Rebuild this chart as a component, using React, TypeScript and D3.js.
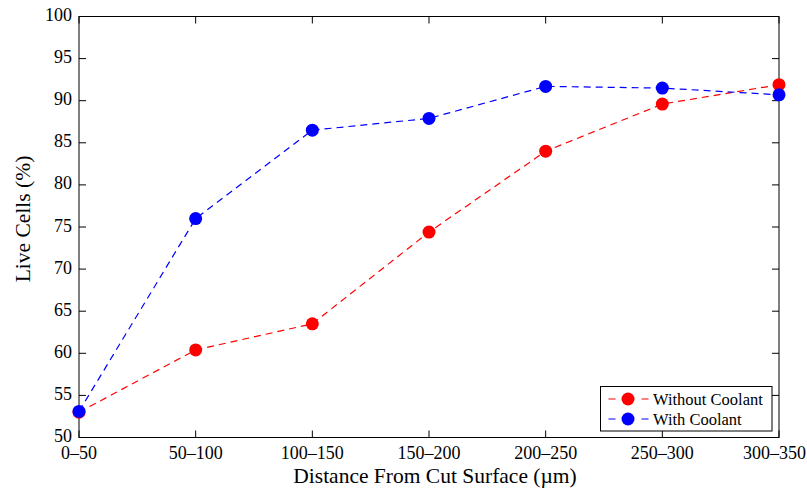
import { useRef, useEffect } from "react";
import * as d3 from "d3";

const categories = ["0–50", "50–100", "100–150", "150–200", "200–250", "250–300", "300–350"];
const withoutCoolant = [53.0, 60.4, 63.5, 74.4, 84.0, 89.6, 91.9];
const withCoolant = [53.1, 76.0, 86.5, 87.9, 91.7, 91.5, 90.7];
const yTicks = [50, 55, 60, 65, 70, 75, 80, 85, 90, 95, 100];

const App = () => {
  const svgRef = useRef<SVGSVGElement>(null);

  useEffect(() => {
    const svg = d3.select(svgRef.current);
    svg.selectAll("*").remove();

    const width = 807;
    const height = 494;
    const margin = { top: 16.5, right: 28, bottom: 56.5, left: 79 };
    const innerWidth = width - margin.left - margin.right;
    const innerHeight = height - margin.top - margin.bottom;
    const font = "'Liberation Serif', 'Times New Roman', serif";

    const chart = svg
      .append("g")
      .attr("transform", `translate(${margin.left}, ${margin.top})`);

    const xScale = d3.scalePoint<string>().domain(categories).range([0, innerWidth]);
    const yScale = d3.scaleLinear().domain([50, 100]).range([innerHeight, 0]);

    // frame
    chart
      .append("rect")
      .attr("width", innerWidth)
      .attr("height", innerHeight)
      .attr("fill", "none")
      .attr("stroke", "#000")
      .attr("stroke-width", 1);

    // ticks (inward on all four sides)
    const tk = 7;
    categories.forEach((c, i) => {
      const x = xScale(c)!;
      chart.append("line").attr("x1", x).attr("x2", x).attr("y1", innerHeight).attr("y2", innerHeight - tk).attr("stroke", "#000");
      chart.append("line").attr("x1", x).attr("x2", x).attr("y1", 0).attr("y2", tk).attr("stroke", "#000");
      const last = i === categories.length - 1;
      chart
        .append("text")
        .attr("x", last ? width - 1 - margin.left : x)
        .attr("y", innerHeight + 21)
        .attr("text-anchor", last ? "end" : "middle")
        .attr("font-family", font)
        .attr("font-size", 18)
        .text(c);
    });
    yTicks.forEach((v) => {
      const y = yScale(v);
      chart.append("line").attr("x1", 0).attr("x2", tk).attr("y1", y).attr("y2", y).attr("stroke", "#000");
      chart.append("line").attr("x1", innerWidth).attr("x2", innerWidth - tk).attr("y1", y).attr("y2", y).attr("stroke", "#000");
      chart
        .append("text")
        .attr("x", -7)
        .attr("y", y + 4.5)
        .attr("text-anchor", "end")
        .attr("font-family", font)
        .attr("font-size", 18)
        .text(v);
    });

    // axis titles
    chart
      .append("text")
      .attr("x", 435 - margin.left)
      .attr("y", 483 - margin.top)
      .attr("text-anchor", "middle")
      .attr("font-family", font)
      .attr("font-size", 21.5)
      .text("Distance From Cut Surface (µm)");
    chart
      .append("text")
      .attr("transform", `translate(${30 - margin.left}, ${219 - margin.top}) rotate(-90)`)
      .attr("text-anchor", "middle")
      .attr("font-family", font)
      .attr("font-size", 21.5)
      .text("Live Cells (%)");

    const series = [
      { name: "Without Coolant", values: withoutCoolant, color: "#ff0000" },
      { name: "With Coolant", values: withCoolant, color: "#0000ff" },
    ];

    const line = d3
      .line<number>()
      .x((_, i) => xScale(categories[i])!)
      .y((d) => yScale(d));

    series.forEach((s) => {
      chart
        .append("path")
        .attr("d", line(s.values))
        .attr("fill", "none")
        .attr("stroke", s.color)
        .attr("stroke-width", 1.2)
        .attr("stroke-dasharray", "7,5");
      chart
        .selectAll(null)
        .data(s.values)
        .join("circle")
        .attr("cx", (_, i) => xScale(categories[i])!)
        .attr("cy", (d) => yScale(d))
        .attr("r", 6.5)
        .attr("fill", s.color);
    });

    // legend
    const lg = chart.append("g").attr("transform", `translate(${600.5 - margin.left}, ${386.5 - margin.top})`);
    lg.append("rect")
      .attr("width", 171.5)
      .attr("height", 44.5)
      .attr("fill", "#fff")
      .attr("stroke", "#000")
      .attr("stroke-width", 1);
    series.forEach((s, i) => {
      const y = 12.5 + i * 20;
      lg.append("line")
        .attr("x1", 8)
        .attr("x2", 48)
        .attr("y1", y)
        .attr("y2", y)
        .attr("stroke", s.color)
        .attr("stroke-width", 1.2)
        .attr("stroke-dasharray", "7,26");
      lg.append("circle").attr("cx", 27.5).attr("cy", y).attr("r", 6.5).attr("fill", s.color);
      lg.append("text")
        .attr("x", 52.5)
        .attr("y", y + 5.5)
        .attr("font-family", font)
        .attr("font-size", 16.5)
        .text(s.name);
    });
  }, []);

  return <svg ref={svgRef} width={807} height={494} style={{ position: "absolute", left: 0, top: 0 }}></svg>;
};

export default App;
